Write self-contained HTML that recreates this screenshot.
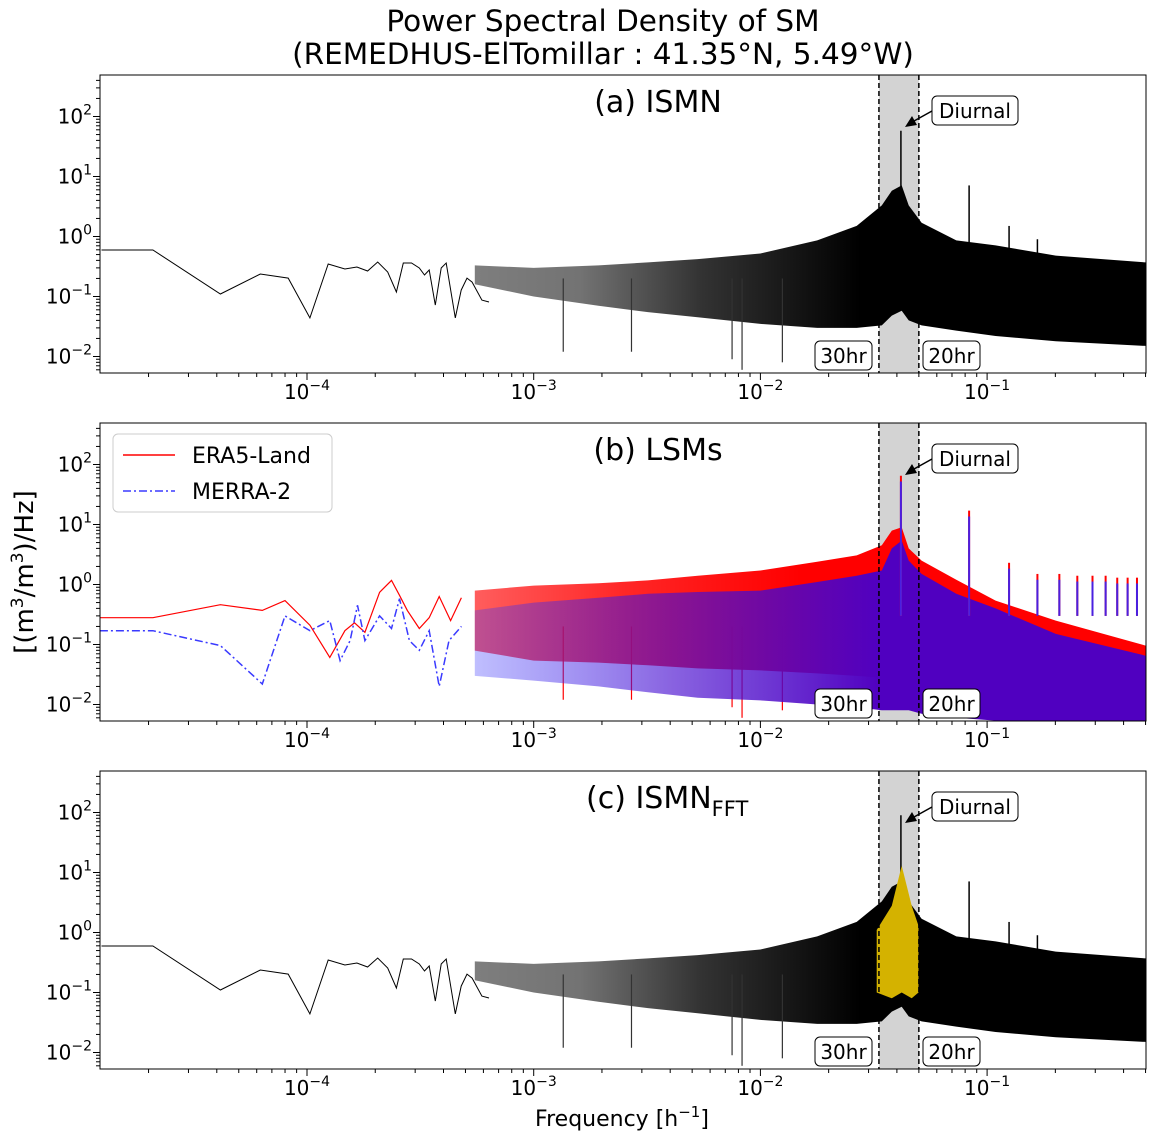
<!DOCTYPE html>
<html><head><meta charset="utf-8"><style>
body{margin:0;background:#fff}
svg text{font-family:"DejaVu Sans","Liberation Sans",sans-serif;fill:#000}
</style></head><body>
<svg id="chart" width="1158" height="1143" viewBox="0 0 1158 1143" xmlns="http://www.w3.org/2000/svg">
<defs>
<linearGradient id="gBlack" gradientUnits="userSpaceOnUse" x1="460" y1="0" x2="860" y2="0">
<stop offset="0" stop-color="#000" stop-opacity="0.5"/><stop offset="0.3" stop-color="#000" stop-opacity="0.55"/><stop offset="0.6" stop-color="#000" stop-opacity="0.8"/><stop offset="1" stop-color="#000" stop-opacity="1"/></linearGradient>
<linearGradient id="gRed" gradientUnits="userSpaceOnUse" x1="450" y1="0" x2="800" y2="0">
<stop offset="0" stop-color="#ff0000" stop-opacity="0.6"/><stop offset="0.5" stop-color="#ff0000" stop-opacity="0.85"/><stop offset="1" stop-color="#ff0000" stop-opacity="1"/></linearGradient>
<linearGradient id="gPur" gradientUnits="userSpaceOnUse" x1="460" y1="0" x2="880" y2="0">
<stop offset="0" stop-color="#3a3aff" stop-opacity="0.3"/><stop offset="0.5" stop-color="#4a10d0" stop-opacity="0.65"/><stop offset="1" stop-color="#5000c0" stop-opacity="1"/></linearGradient>
</defs>
</svg>
<script>
// ---------- data ----------
const lowFreqA = [1.24e-5,2.09e-5,4.15e-5,6.22e-5,8.26e-5,1.03e-4,1.24e-4,1.47e-4,1.66e-4,1.85e-4,2.05e-4,2.27e-4,2.48e-4,2.66e-4,2.89e-4,3.13e-4,3.30e-4,3.46e-4,3.68e-4,3.91e-4,4.11e-4,4.51e-4,4.79e-4,5.08e-4,5.35e-4,5.91e-4,6.35e-4];
const lowValA = [0.595,0.595,0.110,0.237,0.203,0.044,0.348,0.287,0.310,0.266,0.376,0.256,0.119,0.362,0.362,0.299,0.228,0.277,0.072,0.299,0.362,0.044,0.128,0.203,0.174,0.087,0.081];
const lowFreqRed = [1.22e-5,2.09e-5,4.15e-5,6.35e-5,8.0e-5,1.03e-4,1.26e-4,1.47e-4,1.62e-4,1.80e-4,2.09e-4,2.36e-4,2.56e-4,2.77e-4,3.13e-4,3.46e-4,3.83e-4,4.3e-4,4.8e-4];
const lowValRed = [0.28,0.28,0.46,0.37,0.54,0.21,0.061,0.17,0.23,0.16,0.74,1.17,0.66,0.37,0.185,0.28,0.63,0.25,0.6];
const lowFreqBlue = [1.22e-5,2.09e-5,4.15e-5,6.35e-5,8.0e-5,1.03e-4,1.26e-4,1.40e-4,1.55e-4,1.67e-4,1.80e-4,2.09e-4,2.36e-4,2.56e-4,2.83e-4,3.13e-4,3.46e-4,3.83e-4,4.23e-4,4.8e-4];
const lowValBlue = [0.17,0.17,0.096,0.022,0.30,0.17,0.25,0.054,0.116,0.45,0.116,0.30,0.185,0.58,0.116,0.08,0.17,0.02,0.116,0.2];
const envFreq = [5.5e-4,1e-3,1.93e-3,3.19e-3,5.29e-3,1e-2,0.0178,0.0266,0.0343,0.038,0.042,0.0451,0.0514,0.0731,0.109,0.201,0.5];
const envUpA = [0.33,0.30,0.33,0.37,0.42,0.52,0.86,1.5,3.3,5.8,7.1,3.3,1.7,0.86,0.71,0.48,0.37];
const envLoA = [0.16,0.1,0.07,0.055,0.045,0.035,0.03,0.03,0.033,0.048,0.058,0.04,0.033,0.027,0.022,0.018,0.015];
const envUpRed = [0.79,0.96,1.05,1.17,1.4,1.71,2.4,3.05,4.5,7.9,9,4,2.5,1.2,0.54,0.25,0.096];
const envLoRed = [0.079,0.054,0.05,0.045,0.04,0.037,0.033,0.03,0.028,0.03,0.03,0.03,0.028,0.027,0.025,0.02,0.017];
const envUpPur = [0.37,0.5,0.6,0.7,0.75,0.79,1.1,1.4,1.71,4,5.4,2.5,1.5,0.7,0.4,0.15,0.065];
const envLoPur = [0.03,0.025,0.02,0.016,0.013,0.0117,0.01,0.009,0.008,0.008,0.008,0.008,0.007,0.006,0.0054,0.005,0.005];
const dipFreq = [1.35e-3,2.7e-3,7.5e-3,8.3e-3,0.0125];
const dipVal = [0.012,0.012,0.009,0.006,0.008];
const peakFreqA = [0.04167,0.0833,0.125,0.1667];
const peakValA = [58,7.1,1.5,0.9];
const peakValC = [90,7.1,1.5,0.9];
const peakFreqB = [0.04167,0.0833,0.125,0.1667,0.2083,0.25,0.2917,0.3333,0.375,0.4167,0.4583];
const peakValB = [65,17,2.3,1.5,1.5,1.4,1.4,1.4,1.3,1.3,1.3];
const goldFreq = [0.0326,0.038,0.042,0.0465,0.0498];
const goldUp = [1.1,2.8,13,2.8,1.3];
const goldLo = [0.1,0.08,0.1,0.08,0.1];
const xTickVals = [1e-4,1e-3,1e-2,1e-1];
const xTickExp = ["−4","−3","−2","−1"];
const yTickVals = [100,10,1,0.1,0.01];
const yTickExp = ["2","1","0","−1","−2"];
const bandLo = 1/30, bandHi = 1/20;

// ---------- scales ----------
const L=100,R=1146,PH=298;
const tops=[75,423,771];
const xs=f=>307+(Math.log10(f)+4)*226.7;
const ysF=i=>v=>tops[i]+161.5-Math.log10(v)*60;
const svg=document.getElementById('chart');
const NS='http://www.w3.org/2000/svg';
function mk(tag,attrs,parent){const e=document.createElementNS(NS,tag);for(const k in attrs)e.setAttribute(k,attrs[k]);(parent||svg).appendChild(e);return e;}

function polyPts(fs,vs,ys){return fs.map((f,i)=>xs(f).toFixed(1)+','+ys(vs[i]).toFixed(1));}
function band(g,fs,up,lo,ys,fill,name){
  const pts=polyPts(fs,up,ys).concat(polyPts(fs,lo,ys).reverse());
  const p=mk('polygon',{points:pts.join(' '),fill:fill},g);
  
  
}
function line(g,fs,vs,ys,attrs,name){
  const p=mk('polyline',Object.assign({points:polyPts(fs,vs,ys).join(' '),fill:'none'},attrs),g);
  
  
}
function spikes(g,fs,vs,base,ys,color,w,name){
  fs.forEach((f,i)=>{
    const l=mk('line',{x1:xs(f),x2:xs(f),y1:ys(base),y2:ys(vs[i]),stroke:color,'stroke-width':w},g);
    
    
  });
}
function boxText(g,x,y,w,txt,name){
  const r=mk('rect',{x:x,y:y,width:w,height:29,rx:5,fill:'#fff',stroke:'#000','stroke-width':1},g);
  
  
  const t=mk('text',{x:x+w/2,y:y+22,'font-size':20,'text-anchor':'middle'},g);
  t.textContent=txt;
  
  
}

const labels=['(a) ISMN','(b) LSMs','(c) ISMN'];
for(let i=0;i<3;i++){
  const ys=ysF(i), T=tops[i], B=T+PH;
  const g=mk('g',{});
  
  
  const cp=mk('clipPath',{id:'cp'+i},svg);
  mk('rect',{x:L,y:T,width:R-L,height:PH},cp);
  const plot=mk('g',{'clip-path':'url(#cp'+i+')'},g);
  const sb=mk('rect',{x:xs(bandLo),y:T,width:xs(bandHi)-xs(bandLo),height:PH,fill:'#d3d3d3'},plot);
  
  
  if(i!==1){
    line(plot,lowFreqA,lowValA,ys,{stroke:'#000','stroke-width':1},'ismn-low-frequency-line');
    band(plot,envFreq,envUpA,envLoA,ys,'url(#gBlack)','ismn-noise-band');
    spikes(plot,dipFreq,dipVal,0.2,ys,'#333',1.2,'ismn-dip');
    spikes(plot,peakFreqA,i===0?peakValA:peakValC,0.3,ys,'#000',1.5,'ismn-peak');
    if(i===2){
      band(plot,goldFreq,goldUp,goldLo,ys,'#d4b200','ismn-fft-filtered-band');
    }
  } else {
    line(plot,lowFreqRed,lowValRed,ys,{stroke:'#ff0000','stroke-width':1.2},'era5-land-low-frequency-line');
    band(plot,envFreq,envUpRed,envLoRed,ys,'url(#gRed)','era5-land-noise-band');
    spikes(plot,dipFreq,dipVal,0.2,ys,'#ff0000',1.2,'era5-dip');
    line(plot,lowFreqBlue,lowValBlue,ys,{stroke:'#3a3aff','stroke-width':1.5,'stroke-dasharray':'8,3,2,3'},'merra-2-low-frequency-line');
    band(plot,envFreq,envUpPur,envLoPur,ys,'url(#gPur)','merra-2-noise-band');
    spikes(plot,peakFreqB,peakValB,0.3,ys,'#ff0000',2,'era5-peak');
    spikes(plot,peakFreqB,peakValB.map(v=>v*0.8),0.3,ys,'#4a20e0',2,'merra-2-peak');
  }
  [bandLo,bandHi].forEach(f=>{
    const l=mk('line',{x1:xs(f),x2:xs(f),y1:T,y2:B,stroke:'#000','stroke-width':1.5,'stroke-dasharray':'5,3'},g);
    
    
  });
  const fr=mk('rect',{x:L,y:T,width:R-L,height:PH,fill:'none',stroke:'#000','stroke-width':1},g);
  
  
  for(let d=-5;d<=-1;d++)for(let k=1;k<10;k++){
    const f=k*Math.pow(10,d),x=xs(f);
    if(x<L||x>R)continue;
    const t=mk('line',{x1:x,x2:x,y1:B,y2:B+(k===1?7:4),stroke:'#000','stroke-width':1},g);
    
    
  }
  xTickVals.forEach((v,j)=>{
    const t=mk('text',{x:xs(v),y:B+26,'font-size':20,'text-anchor':'middle'},g);
    t.innerHTML='10<tspan dy="-9" font-size="14">'+xTickExp[j]+'</tspan>';
    
    
  });
  for(let d=-3;d<=2;d++)for(let k=1;k<10;k++){
    const v=k*Math.pow(10,d),y=ys(v);
    if(y<T||y>B)continue;
    const t=mk('line',{x1:L-(k===1?7:4),x2:L,y1:y,y2:y,stroke:'#000','stroke-width':1},g);
    
    
  }
  yTickVals.forEach((v,j)=>{
    const t=mk('text',{x:92,y:ys(v)+7,'font-size':20,'text-anchor':'end'},g);
    t.innerHTML='10<tspan dy="-9" font-size="14">'+yTickExp[j]+'</tspan>';
    
    
  });
  const pl=mk('text',{x:i===2?586:658,y:T+37,'font-size':30,'text-anchor':i===2?'start':'middle'},g);
  pl.innerHTML=i===2?'(c) ISMN<tspan dy="8" font-size="21">FFT</tspan>':labels[i];
  
  
  boxText(g,932,T+21,86,'Diurnal','diurnal-annotation');
  const ar=mk('line',{x1:932,y1:T+36,x2:914,y2:T+46,stroke:'#000','stroke-width':1.5},g);
  
  
  const ah=mk('polygon',{points:`905,${T+52} 912,${T+41} 917,${T+50}`,fill:'#000'},g);
  
  
  boxText(g,815,B-32,57,'30hr','30hr-label');
  boxText(g,923,B-32,57,'20hr','20hr-label');
}
const lg=mk('g',{});


const lb=mk('rect',{x:113,y:434,width:219,height:78,rx:5,fill:'#fff',stroke:'#ccc'},lg);


const l1=mk('line',{x1:123,x2:175,y1:455,y2:455,stroke:'#ff0000','stroke-width':1.5},lg);


const t1=mk('text',{x:192,y:463,'font-size':22},lg);t1.textContent='ERA5-Land';


const l2=mk('line',{x1:123,x2:175,y1:491,y2:491,stroke:'#3a3aff','stroke-width':1.5,'stroke-dasharray':'8,3,2,3'},lg);


const t2=mk('text',{x:192,y:499,'font-size':22},lg);t2.textContent='MERRA-2';


const tt=mk('text',{x:603,y:31,'font-size':29.5,'text-anchor':'middle'});
tt.textContent='Power Spectral Density of SM';


const st=mk('text',{x:603,y:64,'font-size':29.5,'text-anchor':'middle'});
st.textContent='(REMEDHUS-ElTomillar : 41.35°N, 5.49°W)';


const yl=mk('text',{x:0,y:0,'font-size':26,'text-anchor':'middle',transform:'translate(33,572) rotate(-90)'});
yl.innerHTML='[(m<tspan dy="-10" font-size="17">3</tspan><tspan dy="10">/m</tspan><tspan dy="-10" font-size="17">3</tspan><tspan dy="10">)/Hz]</tspan>';


const xl=mk('text',{x:622,y:1126,'font-size':22,'text-anchor':'middle'});
xl.innerHTML='Frequency [h<tspan dy="-9" font-size="15">−1</tspan><tspan dy="9">]</tspan>';


</script>
</body></html>
